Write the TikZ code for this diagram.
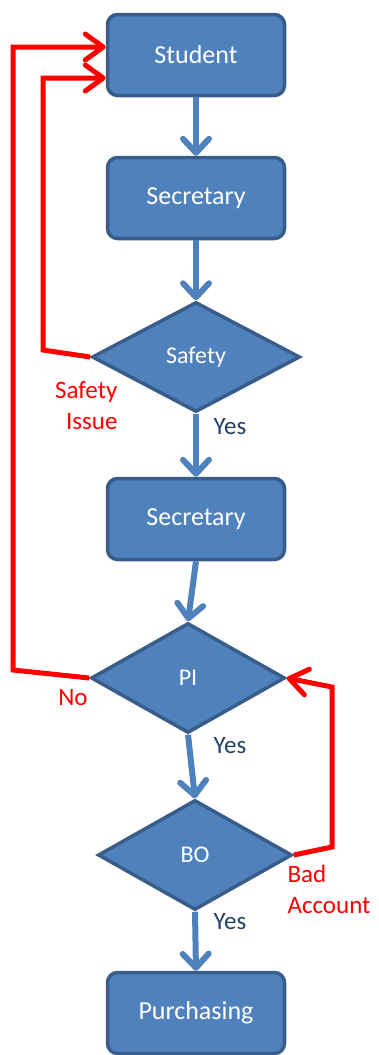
\documentclass[tikz,border=0pt]{standalone}
\usepackage{fontspec}
\setmainfont{Carlito}
\usetikzlibrary{arrows.meta,positioning,shapes.geometric}
\definecolor{boxblue}{HTML}{4F81BD}
\definecolor{boxedge}{HTML}{385D8A}
\definecolor{yesblue}{HTML}{243F60}
\definecolor{loopred}{HTML}{FF0000}
\begin{document}
\begin{tikzpicture}[
   x=1pt, y=-1pt,
   box/.style={draw=boxedge,fill=boxblue,rounded corners=10pt,line width=3.5pt,
               minimum width=177pt,minimum height=81pt,text=white,
               font=\fontsize{26}{30}\selectfont},
   decide/.style={diamond,draw=boxedge,fill=boxblue,line width=3.5pt,inner sep=0pt,
               minimum width=194pt,minimum height=110pt,text=white,
               font=\fontsize{24}{28}\selectfont},
   redlbl/.style={text=loopred,font=\fontsize{25}{31}\selectfont},
   yeslbl/.style={text=yesblue,font=\fontsize{25}{31}\selectfont},
   flow/.style={draw=boxblue,line width=6pt,
               -{Straight Barb[length=14pt,width=26pt,round]}},
   backflow/.style={draw=loopred,line width=5pt,line join=miter,
               -{Straight Barb[length=18pt,width=26pt,round]}},
   ]
\useasboundingbox (0,0) rectangle (379,1055);
%% steps
\node[box] (student) at (196,55)  {Student};
\node[box] (sec1)    at (196,198) {Secretary};
\node[decide,minimum width=208pt] (safety) at (196,357) {Safety};
\node[box] (sec2)    at (196,519) {Secretary};
\node[decide] (pi)   at (188,678) {PI};
\node[decide] (bo)   at (195,855) {BO};
\node[box] (purch)   at (196,1013) {Purchasing};
%% forward arrows
\draw[flow] (student.south) -- (sec1.north);
\draw[flow] (sec1.south) -- (safety.north);
\draw[flow] (safety.south) -- (sec2.north);
\draw[flow] (sec2.south) -- (pi.north);
\draw[flow] (pi.south) -- (bo.north);
\draw[flow] (bo.south) -- (purch.north);
%% loops back
\coordinate (noTurn)   at (13,670);
\coordinate (safeTurn) at (43,350);
\coordinate (badTurn)  at (332,847);
\coordinate (badTop)   at (332,687);
\draw[backflow] (pi.west) -- (noTurn) |- ([yshift=8pt]student.west);
\draw[backflow] (safety.west) -- (safeTurn) |- ([yshift=-23pt]student.west);
\draw[backflow] (bo.east) -- (badTurn) -- (badTop) -- (pi.east);
%% labels
\node[redlbl,align=right,anchor=east] (issue) at (121,406) {Safety\\Issue};
\node[redlbl] (no) at (73,698) {No};
\node[redlbl,align=left,anchor=west] (bad) at (284,889) {Bad\\Account};
\node[yeslbl] (yes1) at (230,427) {Yes};
\node[yeslbl] (yes2) at (230,746) {Yes};
\node[yeslbl] (yes3) at (230,922) {Yes};
\end{tikzpicture}
\end{document}
